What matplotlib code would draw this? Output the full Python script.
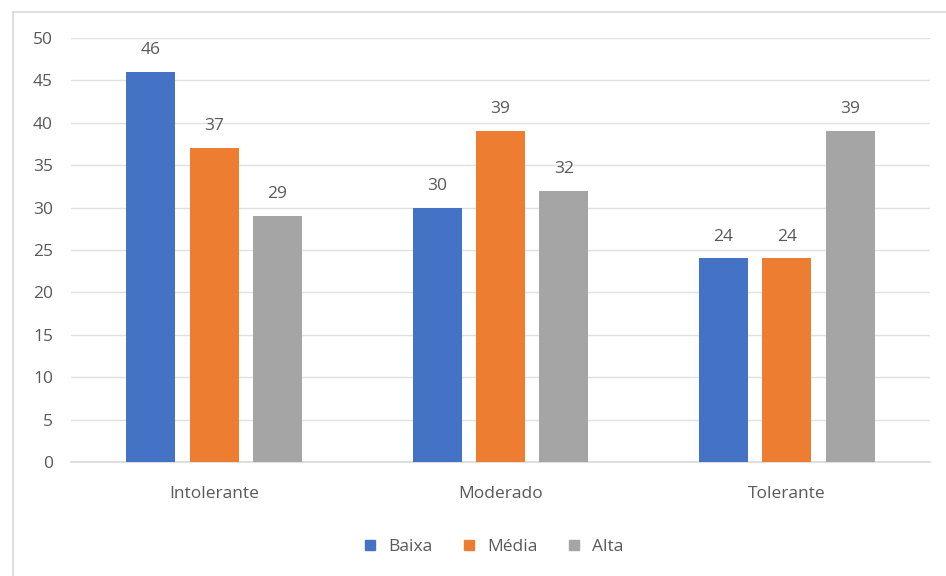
import matplotlib
matplotlib.use("Agg")
import matplotlib.pyplot as plt
import numpy as np
from matplotlib.lines import Line2D

categories = ["Intolerante", "Moderado", "Tolerante"]
series_names = ["Baixa", "Média", "Alta"]
baixa = [46, 30, 24]
media = [37, 39, 24]
alta = [29, 32, 39]
colors = ["#4472C4", "#ED7D31", "#A5A5A5"]
yticks = [0, 5, 10, 15, 20, 25, 30, 35, 40, 45, 50]

plt.rcParams['font.family'] = ['Open Sans', 'DejaVu Sans']
txt = "#595959"
fs = 12.5

fig = plt.figure(figsize=(9.46, 5.76), dpi=100)
ax = fig.add_axes([71/946, 1-462/576, (930-71)/946, (462-38)/576])

x = np.arange(len(categories))
w = 0.171
off = 0.221
for i, (vals, name) in enumerate(zip([baixa, media, alta], series_names)):
    pos = x + (i - 1) * off
    ax.bar(pos, vals, width=w, color=colors[i], label=name, zorder=3)
    for p, v in zip(pos, vals):
        ax.annotate(str(v), (p, v), xytext=(0, 10), textcoords="offset points",
                    ha="center", va="bottom", fontsize=fs, color=txt)

ax.set_xlim(-0.5, 2.5)
ax.set_ylim(0, 50)
ax.set_yticks(yticks)
ax.set_xticks(x)
ax.set_xticklabels(categories)
ax.tick_params(axis='both', length=0, labelsize=fs, labelcolor=txt)
ax.tick_params(axis='y', pad=13)
ax.tick_params(axis='x', pad=17)
ax.grid(axis='y', color="#E0E0E0", linewidth=1, zorder=0)
for s in ["left", "right", "top"]:
    ax.spines[s].set_visible(False)
ax.spines["bottom"].set_color("#D9D9D9")
ax.spines["bottom"].set_linewidth(1.2)

handles = [Line2D([0], [0], marker='s', linestyle='', markersize=7.5, color=c) for c in colors]
fig.legend(handles, series_names, loc='center', bbox_to_anchor=(488/946, 1-547/576),
           ncol=3, frameon=False, fontsize=fs, labelcolor=txt, handletextpad=0.05,
           columnspacing=1.1)

# chart border
fig.add_artist(Line2D([13/946, 13/946], [0, 1-12/576], color="#D9D9D9", linewidth=1.2,
                      transform=fig.transFigure))
fig.add_artist(Line2D([13/946, 1], [1-12/576, 1-12/576], color="#D9D9D9", linewidth=1.2,
                      transform=fig.transFigure))

fig.savefig("out.png", dpi=100)
